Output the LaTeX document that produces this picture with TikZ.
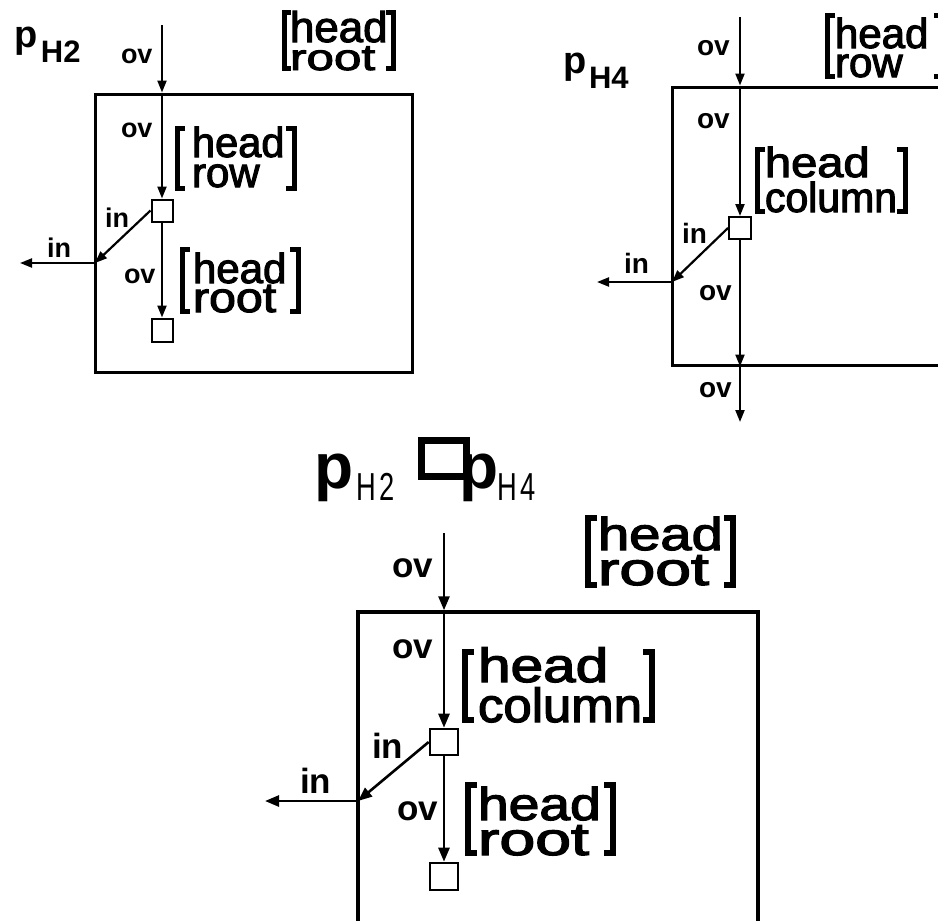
\documentclass[tikz,border=0pt]{standalone}
\usepackage{fontspec}
\usepackage{graphicx}
\setmainfont{Liberation Sans}
\newfontfamily\hfont{Liberation Sans}[FakeBold=2.5]
\usetikzlibrary{arrows.meta}
\newcommand\fsz[1]{\fontsize{#1}{#1}\selectfont}
\tikzset{
  lab/.style={anchor=base west, inner sep=0pt, outer sep=0pt, font=\bfseries},
  txt/.style={anchor=base west, inner sep=0pt, outer sep=0pt},
  arr/.style={line width=2.2pt, -{Triangle[length=12pt,width=9pt]}},
  arrB/.style={line width=2.6pt, -{Triangle[length=14pt,width=11pt]}},
  frame/.style={draw, line width=3pt, inner sep=0pt},
  frameB/.style={draw, line width=3.5pt, inner sep=0pt},
  sq/.style={draw, line width=2pt, inner sep=0pt, fill=white},
  sqB/.style={draw, line width=2.6pt, inner sep=0pt, fill=white},
}
% left x, right x, top, bottom, tick, line width
\newcommand\brk[6]{%
  \draw[line width=#6pt, line join=miter] (#1+#5,#3) -| (#1,#4) -- (#1+#5,#4);
  \draw[line width=#6pt, line join=miter] (#2-#5,#3) -| (#2,#4) -- (#2-#5,#4);}
% x, baseline1, baseline2, size, scale1, scale2 (as {x}[y]), line1, line2, name
\newcommand\hd[9]{%
  \node[txt] (#9a) at (#1,#2) {\scalebox#5{\hfont\fsz{#4}#7}};
  \node[txt] (#9b) at (#1,#3) {\scalebox#6{\hfont\fsz{#4}#8}};}
\begin{document}
\begin{tikzpicture}[x=1pt,y=-1pt]
\useasboundingbox (0,0) rectangle (938,921);
\fill[white] (0,0) rectangle (938,921);
\clip (0,0) rectangle (938,921);

% ---------------- panel 1 : p_H2 ----------------
\node[txt] (l1p) at (14,47) {\fsz{38}\bfseries p};
\node[txt] (l1h) at (41,62) {\fsz{31}\bfseries H2};
\node[frame, minimum width=317pt, minimum height=278pt] (box1) at (253.5,233) {};
\node[sq, minimum width=21pt, minimum height=22pt] (s11) at (162,210.5) {};
\node[sq, minimum width=21pt, minimum height=23pt] (s12) at (162,330) {};
\coordinate (a1) at (162,25);
\coordinate (j1) at (95,263);
\coordinate (e1) at (20,263);
\draw[arr] (a1) -- (a1 |- box1.north);
\draw[arr] (a1 |- box1.north) -- (s11.north);
\draw[arr] (s11.south) -- (s12.north);
\draw[arr] (s11.west) -- (j1);
\draw[arr] (j1) -- (e1);
\node[lab] (o11) at (121,63) {\fsz{27}ov};
\node[lab] (o12) at (121,137) {\fsz{27}ov};
\node[lab] (o13) at (124,283) {\fsz{27}ov};
\node[lab] (i11) at (105,227) {\fsz{27}in};
\node[lab] (i12) at (47,257) {\fsz{27}in};
\brk{284}{393}{12}{68}{7}{5}
\hd{290}{42}{70}{43}{{1.02}[1]}{{1.15}[0.85]}{head}{root}{g1}
\brk{177}{294}{128}{188}{8}{5}
\hd{192}{157}{187}{42}{{0.99}[1]}{{1.0}[1]}{head}{row}{g2}
\brk{182}{298}{249}{311}{8}{5}
\hd{193}{283}{312}{42}{{1.0}[1]}{{1.15}[1]}{head}{root}{g3}

% ---------------- panel 2 : p_H4 ----------------
\node[txt] (l2p) at (563,73) {\fsz{38}\bfseries p};
\node[txt] (l2h) at (589,88) {\fsz{31}\bfseries H4};
\node[frame, minimum width=308pt, minimum height=278pt] (box2) at (826,226) {};
\node[sq, minimum width=22pt, minimum height=22pt] (s21) at (740,228) {};
\coordinate (a2) at (740,17);
\coordinate (e22) at (740,422);
\coordinate (j2) at (672,282);
\coordinate (e2) at (597,282);
\draw[arr] (a2) -- (a2 |- box2.north);
\draw[arr] (a2 |- box2.north) -- (s21.north);
\draw[arr] (s21.south) -- (a2 |- box2.south);
\draw[arr] (a2 |- box2.south) -- (e22);
\draw[arr] (s21.west) -- (j2);
\draw[arr] (j2) -- (e2);
\node[lab] (o21) at (697,55) {\fsz{28}ov};
\node[lab] (o22) at (697,128) {\fsz{28}ov};
\node[lab] (o23) at (699,300) {\fsz{28}ov};
\node[lab] (o24) at (699,397) {\fsz{28}ov};
\node[lab] (i21) at (682,243) {\fsz{28}in};
\node[lab] (i22) at (624,273) {\fsz{28}in};
\brk{827}{942}{15}{76}{8}{5}
\hd{835}{48}{77}{42}{{1.0}[1]}{{1.0}[1]}{head}{row}{g4}
\brk{757}{905}{149}{211}{8}{5}
\hd{765}{177}{212}{42}{{1.12}[1]}{{0.975}[1]}{head}{column}{g5}

% ---------------- panel 3 : product ----------------
\node[draw, line width=7pt, inner sep=0pt, minimum width=45pt, minimum height=36pt] (tsq) at (444,458.5) {};
\node[txt] (tp1) at (314,488) {\fsz{64}\bfseries p};
\node[txt] (th2) at (356,500) {\scalebox{0.7}[1]{\fsz{39}H\hspace{5pt}2}};
\node[txt] (tp2) at (459,488) {\fsz{64}\bfseries p};
\node[txt] (th4) at (497,500) {\scalebox{0.7}[1]{\fsz{39}H\hspace{5pt}4}};

\node[frameB, minimum width=400pt, minimum height=348pt] (box3) at (558,786) {};
\node[sqB, minimum width=28pt, minimum height=26pt] (s31) at (444,742) {};
\node[sqB, minimum width=28pt, minimum height=27pt] (s32) at (444,876.5) {};
\coordinate (a3) at (444,533);
\coordinate (j3) at (358,801);
\coordinate (e3) at (265,801);
\draw[arrB] (a3) -- (a3 |- box3.north);
\draw[arrB] (a3 |- box3.north) -- (s31.north);
\draw[arrB] (s31.south) -- (s32.north);
\draw[arrB] (s31.west) -- (j3);
\draw[arrB] (j3) -- (e3);
\node[lab] (o31) at (392,577) {\fsz{35}ov};
\node[lab] (o32) at (392,658) {\fsz{35}ov};
\node[lab] (o33) at (397,820) {\fsz{35}ov};
\node[lab] (i31) at (372,758) {\fsz{35}in};
\node[lab] (i32) at (300,793) {\fsz{35}in};
\brk{588}{733}{518}{585}{9}{6}
\hd{598}{550}{585}{46}{{1.22}[1]}{{1.4}[1]}{head}{root}{g6}
\brk{465}{652}{652}{720}{9}{6}
\hd{478}{682}{722}{48}{{1.22}[1]}{{1.06}[1]}{head}{column}{g7}
\brk{468}{613}{785}{853}{9}{6}
\hd{478}{820}{855}{46}{{1.2}[1]}{{1.4}[1]}{head}{root}{g8}
\end{tikzpicture}
\end{document}
